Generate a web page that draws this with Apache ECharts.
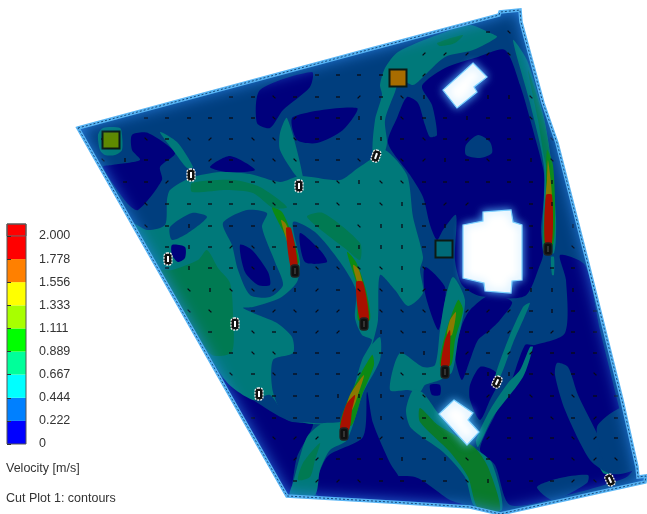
<!DOCTYPE html>
<html><head><meta charset="utf-8">
<style>html,body{margin:0;padding:0;background:#fff}#c{width:647px;height:514px}#c canvas{filter:blur(.4px)}</style>
<script src="https://cdn.jsdelivr.net/npm/echarts@6/dist/echarts.min.js"></script>
</head><body><div id="c"></div>
<script>
// ---- legend values
const legendTicks=[0,0.222,0.444,0.667,0.889,1.111,1.333,1.556,1.778,2];
const legendLabels=['0','0.222','0.444','0.667','0.889','1.111','1.333','1.556','1.778','2.000'];
const legendBands=[[0,0.222],[0.222,0.444],[0.444,0.667],[0.667,0.889],[0.889,1.111],[1.111,1.333],[1.333,1.556],[1.556,1.778],[1.778,2],[2,2.115]];
const legendColors=['#0000ff','#0080ff','#00ffff','#00ff9a','#00ff00','#a8ff00','#ffff00','#ff8000','#ff0000','#ff0000'];
// ---- cut plane outline and openings
const boundary=[[78,128],[360,52],[499,15],[500,12],[520,10],[521,22],[543,103],[557,143],[587,260],[607,340],[622,400],[637,467],[638,477],[646,476],[645,482],[500,514],[470,507],[390,502],[287,496]];
const openingA=[[473,63],[487,77],[474,87],[477,92],[457,108],[443,90]];
const openingB=[[463,225],[483,221],[483,212],[511,210],[513,222],[522,225],[522,280],[512,281],[511,293],[485,291],[484,283],[463,278]];
const openingC=[[454,400],[473,413],[468,420],[479,432],[467,445],[439,414]];
// ---- slow (navy) zones
const navyLeft=[[132,135],[148,133],[175,153],[160,167],[162,180],[138,210],[127,203],[103,167],[112,165],[140,160],[132,150]];
const navyTop=[[260,90],[312,72],[310,87],[283,110],[270,128],[257,123]];
const navyTop2=[[293,117],[357,108],[343,130],[317,143],[297,140]];
const navyArc=[[210,167],[230,156],[255,170],[227,172]];
const navyRight=[[388,143],[397,118],[407,97],[418,103],[425,125],[430,137],[437,135],[432,105],[422,86],[445,68],[478,57],[505,50],[520,85],[533,130],[545,180],[541,230],[543,255],[540,265],[525,296],[480,296],[462,285],[455,260],[456,215],[443,230],[437,240],[430,225],[423,197],[410,175]];
const navyLowerRight=[[560,255],[585,265],[600,330],[616,395],[633,468],[625,478],[560,497],[510,505],[495,465],[480,450],[495,415],[510,385],[525,345],[535,345],[565,333],[566,280]];
const navyMid=[[470,310],[490,295],[512,302],[500,320],[490,330],[478,340],[470,360],[462,380],[455,355],[462,325]];
const navyJet=[[425,267],[445,287],[443,313],[438,330],[425,293]];
const navySmall=[[430,385],[440,385],[440,395],[432,395]];
const navyPocket=[[480,367],[493,370],[500,378],[490,400],[480,420],[470,400],[470,385]];
const navyBottom=[[380,480],[415,477],[450,500],[470,507],[380,503]];
const navyBottomLeft=[[220,378],[253,400],[287,420],[313,423],[297,457],[290,495],[285,495]];
const navyBottomMid=[[317,495],[327,457],[363,437],[367,392],[373,423],[390,463],[400,480],[395,502]];
// ---- medium speed (teal) zones
const tealCentre=[[167,200],[170,190],[190,178],[220,172],[250,174],[280,182],[300,176],[340,180],[358,168],[373,158],[385,150],[407,175],[413,217],[423,257],[420,270],[423,293],[408,306],[395,290],[380,275],[378,320],[372,345],[345,420],[290,420],[270,395],[253,400],[225,380],[130,222],[147,230],[165,225]];
const tealTop=[[380,85],[385,68],[398,52],[437,35],[470,25],[490,33],[497,37],[473,50],[445,57],[420,80],[413,85],[400,80],[395,92],[385,120],[387,143],[383,155],[373,155],[375,120],[382,95]];
const tealWall=[[513,40],[527,60],[543,113],[551,160],[556,217],[554,253],[543,250],[544,167],[530,103]];
const tealStemA=[[280,133],[287,118],[303,177],[297,177],[280,150]];
const tealStemB=[[160,132],[177,142],[193,167],[187,168],[173,150]];
const tealHalo=[[98,135],[103,128],[120,128],[122,135],[122,150],[115,155],[105,155],[100,150]];
const tealLower=[[380,337],[368,350],[357,377],[343,417],[327,420],[307,437],[293,483],[290,495],[315,495],[320,470],[330,450],[347,440],[363,393],[380,360]];
const tealJetD=[[390,390],[400,353],[423,367],[435,365],[440,330],[445,300],[453,277],[465,300],[458,340],[452,372],[440,380],[425,385],[420,392],[408,390]];
const tealThinA=[[530,303],[513,343],[500,377],[495,377],[508,340],[523,307]];
const tealThinB=[[533,347],[523,377],[493,417],[478,447],[476,440],[490,410],[508,383],[520,370],[530,347]];
const tealThinC=[[572,400],[610,473],[603,473],[575,420]];
const tealTail=[[551,257],[554,257],[554,275],[552,275]];
const tealBand=[[413,390],[423,393],[438,413],[466,447],[477,450],[492,463],[502,510],[475,507],[465,477],[443,452],[411,428],[406,410]];
// ---- blue pockets on top of teal
const blueCentre=[[293,222],[315,232],[340,262],[356,290],[355,318],[362,335],[372,340],[362,360],[352,395],[345,420],[325,423],[313,423],[287,420],[273,392],[273,360],[293,353],[292,337],[277,323],[263,317],[243,308],[253,307],[280,298],[297,282],[300,262]];
const blueLeft=[[170,227],[192,213],[207,217],[188,233],[172,240]];
const blueRing=[[223,223],[247,210],[267,213],[262,227],[275,262],[283,285],[270,297],[250,295],[238,270],[232,245]];
const blueBlob=[[478,135],[490,142],[492,153],[480,158],[466,155],[466,145]];
const blueLobe=[[557,363],[568,367],[578,395],[600,440],[610,473],[590,460],[565,410],[555,375]];
const bluePatch=[[597,427],[627,407],[637,467],[610,473]];
const blueFloor=[[537,487],[560,478],[588,475],[587,483],[553,500]];
const navyEye=[[240,245],[252,250],[268,272],[270,285],[258,285],[245,272]];
const navyTongue=[[300,233],[320,250],[327,262],[305,262]];
const navyNick=[[172,245],[185,247],[185,258],[178,262],[172,255]];
// ---- faster (green) zones
const greenLeft=[[160,270],[172,270],[198,260],[207,250],[218,268],[230,283],[233,313],[232,352],[212,355],[195,330],[160,275]];
const greenArc=[[192,183],[233,180],[260,187],[287,207],[273,208],[253,193],[227,190],[192,192]];
const greenArcB=[[307,217],[323,213],[360,243],[360,260],[347,250]];
const greenStem=[[320,443],[303,463],[298,480],[310,477],[315,460]];
const greenRoof=[[437,43],[463,35],[455,43],[440,46]];
const greenWall=[[528,70],[544,120],[551,165],[546,165],[538,120]];
const greenBand=[[420,408],[438,425],[474,447],[488,467],[500,510],[478,508],[468,477],[450,452],[420,422]];
// ---- jets
const jetAGreen=[[272,208],[282,212],[292,235],[299,262],[292,268],[287,240]];
const jetAOlive=[[281,220],[286,224],[293,245],[297,262],[292,262],[288,245]];
const jetARed=[[286,228],[291,228],[298,268],[291,268]];
const jetBGreen=[[347,252],[356,262],[366,290],[370,320],[358,320],[358,290]];
const jetBOlive=[[353,265],[359,270],[365,295],[366,305],[360,305],[359,290]];
const jetBRed=[[356,282],[363,282],[369,320],[360,320]];
const jetCGreen=[[372,355],[374,365],[362,395],[352,425],[340,425],[350,395]];
const jetCOlive=[[364,375],[358,395],[352,410],[346,410],[350,395]];
const jetCRed=[[355,395],[352,410],[349,430],[340,430],[346,405]];
const jetDGreen=[[458,300],[463,310],[455,340],[451,365],[440,365],[445,335]];
const jetDOlive=[[456,312],[452,335],[447,335],[450,320]];
const jetDRed=[[450,330],[450,350],[449,367],[441,367],[445,340]];
const jetEGreen=[[547,150],[553,165],[555,210],[553,245],[544,245],[546,190]];
const jetEOlive=[[548,160],[552,200],[546,200],[547,180]];
const jetERed=[[546,195],[552,195],[552,243],[545,243]];
// ---- inlets and outlets
const sources=[[111,140,'#5f8a00'],[398,78,'#a86c00'],[444,249,'#006a78']];
const diffusers=[[191,175,1,0],[299,186,1,0],[376,156,1,20],[168,259,1,0],[235,324,1,0],[259,394,1,0],[295,271,0,0],[364,324,0,0],[344,434,0,0],[445,372,0,0],[548,249,0,0],[497,382,1,25],[610,480,1,-25]];
// ---- velocity vectors: lattice columns, then row y, first column, directions
const vectorXs=[82,103,125,146,167,189,210,231,253,274,295,317,338,359,381,402,424,445,467,488,509,531,552,573,595,616];
const vectorRows=[[32,19,'hb'],[54,16,'ssssb'],[75,11,'hhhhvs'],[97,7,'hhbhhhshbv..vvb'],[118,3,'hhhhhhbshhvvbhhvhhb'],[139,1,'h.bhbshbbbhhhvhbhshhhb'],[160,1,'bvhh.shbbbhhb.bsvhbhvb'],[182,2,'hhs.hhhb.hbvbbhhhhhhv'],[204,3,'bhhhhhbhhbhbvhss..hv'],[226,3,'bhvhhh.hhhbvvhv...h.v'],[247,4,'hvhsbhhbhvvvhv...h.b'],[268,4,'hvhhbv.bbbbvb....hhh'],[290,5,'bvbbsvshbbvshh..vvv'],[311,5,'bb.hsbss.bbb.ssshvhh'],[332,6,'h.bhhss.vbh.hsshshh'],[353,7,'hbbhhh.hhv.shsshhh'],[374,7,'bhbhhhsvbh.hvvhbhbh'],[396,9,'hhhvvvhb..svbhbhh'],[418,8,'hhhhh.vbh...hhbhsh'],[438,9,'bss.hshhh.shhhbsh'],[459,10,'sshhhvhvbhhhhbsb'],[481,10,'hssbhhhhbvhhhsb']];

const C={navy:'#00007c',blue:'#003e7e',teal:'#00797a',green:'#007a52',deep:'#0a7a2a',lime:'#0c8a14',olive:'#8a7a00',red:'#a81000'};
const layers=[
 [navyLeft,C.navy],[navyTop,C.navy],[navyTop2,C.navy],[navyArc,C.navy],[navyRight,C.navy],[navyLowerRight,C.navy],[navyMid,C.navy],[navyJet,C.navy],[navySmall,C.navy],[navyPocket,C.navy],[navyBottom,C.navy],[navyBottomLeft,C.navy],[navyBottomMid,C.navy],
 [tealCentre,C.teal],[tealTop,C.teal],[tealWall,C.teal],[tealStemA,C.teal],[tealStemB,C.teal],[tealHalo,C.teal],[tealLower,C.teal],[tealJetD,C.teal],[tealThinA,C.teal],[tealThinB,C.teal],[tealThinC,C.teal],[tealTail,C.teal],[tealBand,C.teal],
 [blueCentre,C.blue],[blueLeft,C.blue],[blueRing,C.blue],[blueBlob,C.blue],[blueLobe,C.blue],[bluePatch,C.blue],[blueFloor,C.blue],[navyEye,C.navy],[navyTongue,C.navy],[navyNick,C.navy],
 [greenLeft,C.green],[greenArc,C.green],[greenArcB,C.green],[greenStem,C.green],[greenRoof,C.green],[greenWall,C.green],[greenBand,C.deep],
 [jetAGreen,C.lime],[jetAOlive,C.olive],[jetARed,C.red],[jetBGreen,C.lime],[jetBOlive,C.olive],[jetBRed,C.red],[jetCGreen,C.lime],[jetCOlive,C.olive],[jetCRed,C.red],[jetDGreen,C.lime],[jetDOlive,C.olive],[jetDRed,C.red],[jetEGreen,C.lime],[jetEOlive,C.olive],[jetERed,C.red]
];
const vectors=[];
vectorRows.forEach(([y,first,codes])=>{[...codes].forEach((c,i)=>{if(c!=='.')vectors.push([vectorXs[first+i],y,'hsvb'.indexOf(c)]);});});
const dirs=[[1,0],[0.7,-0.7],[0,1],[0.7,0.7]];

const chart=echarts.init(document.getElementById('c'),null,{renderer:'canvas'});
const poly=(api,pts)=>pts.map(p=>api.coord(p));
const idx=data=>data.map((_,i)=>[i,0]);
const outer=[[-40,-40],[-40,560],[690,560],[690,-40],[-40,-40]];
const mask=outer.concat(boundary,[boundary[0]],[[-40,-40]]);
function cs(name,n,fn,z){return {type:'custom',name,coordinateSystem:'cartesian2d',xAxisIndex:0,yAxisIndex:0,clip:false,silent:true,z,data:idx(new Array(n).fill(0)),renderItem:fn,animation:false};}
const txt={fontFamily:'Liberation Sans',fontSize:12.5,fontWeight:'normal',color:'#333'};
chart.setOption({
 animation:false,backgroundColor:'#fff',
 title:[
  {text:'Velocity [m/s]',left:6,top:462,textStyle:txt,padding:0},
  {text:'Cut Plot 1: contours',left:6,top:492,textStyle:txt,padding:0}
 ],
 grid:[{left:0,top:0,width:647,height:514,show:false},{left:7,top:224,width:19,height:220,show:true,borderColor:'#555',borderWidth:1,backgroundColor:'transparent',z:12}],
 xAxis:[{type:'value',min:0,max:647,show:false,gridIndex:0},{type:'value',min:0,max:1,show:false,gridIndex:1}],
 yAxis:[{type:'value',min:0,max:514,inverse:true,show:false,gridIndex:0},
  {type:'value',gridIndex:1,z:20,min:0,max:2.115,position:'right',splitLine:{show:false},axisLine:{show:false},
   axisTick:{show:true,length:4,lineStyle:{color:'#333'},customValues:legendTicks},
   axisLabel:{margin:13,fontFamily:'Liberation Sans',fontSize:12.5,color:'#333',customValues:legendTicks,formatter:v=>legendLabels[legendTicks.indexOf(v)]||''}}],
 series:[
  cs('base',1,(p,api)=>({type:'polygon',shape:{points:poly(api,boundary)},style:{fill:C.blue}}),1),
  cs('zones',layers.length,(p,api)=>({type:'polygon',shape:{points:poly(api,layers[p.dataIndex][0]),smooth:0.25},style:{fill:layers[p.dataIndex][1]}}),2),
  cs('vectors',vectors.length,(p,api)=>{const v=vectors[p.dataIndex],c=api.coord(v),d=dirs[v[2]];return {type:'line',shape:{x1:c[0]-d[0]*2,y1:c[1]-d[1]*2,x2:c[0]+d[0]*2,y2:c[1]+d[1]*2},style:{stroke:'#0a0a14',lineWidth:1.3}};},3),
  cs('sources',sources.length,(p,api)=>{const s=sources[p.dataIndex],c=api.coord(s);return {type:'rect',shape:{x:c[0]-8.5,y:c[1]-8.5,width:17,height:17},style:{fill:s[2],stroke:'#0c1a14',lineWidth:2}};},4),
  cs('wallMask',1,(p,api)=>({type:'polygon',shape:{points:poly(api,mask)},style:{fill:'#fff',shadowBlur:16,shadowColor:'#2f86ea'}}),5),
  cs('wall',1,(p,api)=>({type:'group',children:[
    {type:'polygon',shape:{points:poly(api,boundary)},style:{fill:'none',stroke:'#58b4f4',lineWidth:3.5}},
    {type:'polygon',shape:{points:poly(api,boundary)},style:{fill:'none',stroke:'#174a7c',lineWidth:1,lineDash:[2,2]}}]}),6),
  cs('openings',3,(p,api)=>({type:'polygon',shape:{points:poly(api,[openingA,openingB,openingC][p.dataIndex])},style:{fill:'#fff',stroke:'#7ed2ff',lineWidth:1.2,shadowBlur:9,shadowColor:'#58bcff'}}),7),
  cs('diffusers',diffusers.length,(p,api)=>{const d=diffusers[p.dataIndex],c=api.coord(d);return {type:'group',x:c[0],y:c[1],rotation:-d[3]*Math.PI/180,children:[
    {type:'rect',shape:{x:-4,y:-6,width:8,height:12,r:3},style:{fill:'#101010',stroke:d[2]?'#eee':'#222',lineWidth:1.3,lineDash:d[2]?[2,1]:null}},
    {type:'rect',shape:{x:-1,y:-3,width:2,height:6},style:{fill:d[2]?'#fff':'#333'}}]};},8),
  {type:'custom',name:'legend',coordinateSystem:'cartesian2d',xAxisIndex:1,yAxisIndex:1,silent:true,z:10,data:idx(legendBands),
   renderItem:(p,api)=>{const b=legendBands[p.dataIndex],a=api.coord([0,b[1]]),e=api.coord([1,b[0]]);return {type:'rect',shape:{x:a[0],y:a[1],width:e[0]-a[0],height:e[1]-a[1]},style:{fill:legendColors[p.dataIndex],stroke:p.dataIndex===9?'#666':null,lineWidth:1}};}}
 ]
});
</script></body></html>
